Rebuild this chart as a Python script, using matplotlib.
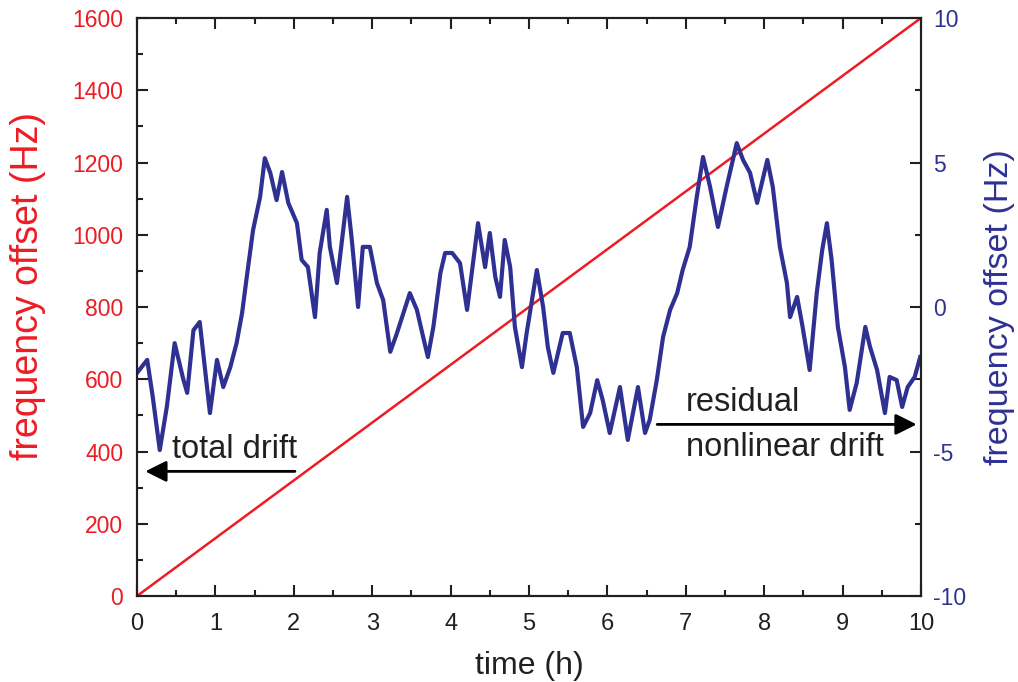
import matplotlib
matplotlib.use('Agg')
import matplotlib.pyplot as plt
import numpy as np
from matplotlib.ticker import MultipleLocator

plt.rcParams['font.family'] = ['Liberation Sans', 'DejaVu Sans']
plt.rcParams['axes.unicode_minus'] = False

red = '#ed1c24'
blue = '#2e3192'
dark = '#231f20'

# total drift (left axis), straight line from 0 to 1600 Hz
drift_t = [0, 10]
drift_f = [0, 1600]

# residual nonlinear drift (right axis)
res_t = [0.0, 0.13, 0.2, 0.29, 0.38, 0.48, 0.59, 0.64, 0.72, 0.80, 0.85, 0.93,
         1.02, 1.10, 1.19, 1.27, 1.34, 1.40, 1.48, 1.57, 1.63, 1.70, 1.78, 1.85,
         1.93, 2.04, 2.10, 2.18, 2.27, 2.33, 2.42, 2.46, 2.55, 2.68, 2.74, 2.82,
         2.88, 2.97, 3.06, 3.14, 3.23, 3.31, 3.48, 3.57, 3.65, 3.71, 3.78, 3.87,
         3.93, 4.02, 4.12, 4.21, 4.27, 4.35, 4.44, 4.50, 4.57, 4.63, 4.69, 4.76,
         4.82, 4.91, 4.97, 5.10, 5.18, 5.24, 5.31, 5.43, 5.52, 5.61, 5.69, 5.78,
         5.87, 5.94, 6.03, 6.16, 6.26, 6.39, 6.48, 6.54, 6.63, 6.71, 6.80, 6.89,
         6.96, 7.05, 7.14, 7.22, 7.31, 7.41, 7.52, 7.65, 7.73, 7.82, 7.91, 8.04,
         8.11, 8.20, 8.29, 8.33, 8.42, 8.49, 8.58, 8.67, 8.74, 8.80, 8.86, 8.94,
         9.03, 9.09, 9.18, 9.29, 9.35, 9.44, 9.54, 9.60, 9.69, 9.76, 9.83, 9.92,
         9.99]
res_f = [-2.28, -1.83, -3.1, -4.95, -3.46, -1.25, -2.5, -2.97, -0.8, -0.52, -1.73, -3.67,
         -1.83, -2.77, -2.08, -1.25, -0.21, 1.04, 2.66, 3.81, 5.15, 4.64, 3.7, 4.67,
         3.6, 2.9, 1.63, 1.38, -0.35, 1.87, 3.36, 2.08, 0.83, 3.81, 2.32, 0.0,
         2.08, 2.08, 0.83, 0.24, -1.55, -0.95, 0.48, -0.1, -1.04, -1.73, -0.69, 1.18,
         1.87, 1.87, 1.52, -0.1, 1.18, 2.9, 1.38, 2.56, 1.04, 0.35, 2.32, 1.38,
         -0.69, -2.08, -0.9, 1.28, 0.0, -1.38, -2.28, -0.9, -0.9, -2.08, -4.15, -3.67,
         -2.53, -3.22, -4.36, -2.77, -4.6, -2.77, -4.36, -3.9, -2.53, -1.04, -0.1, 0.48,
         1.28, 2.08, 3.81, 5.19, 4.15, 2.77, 4.15, 5.67, 5.09, 4.64, 3.6, 5.09,
         4.15, 2.08, 0.83, -0.35, 0.35, -0.69, -2.18, 0.48, 1.97, 2.9, 1.63, -0.69,
         -2.08, -3.56, -2.63, -0.69, -1.38, -2.18, -3.67, -2.42, -2.53, -3.46, -2.77, -2.42,
         -1.73]

fig = plt.figure(figsize=(10.18, 6.82), dpi=100)
ax = fig.add_axes([0.1346, 0.1261, 0.7701, 0.8475])
ax2 = ax.twinx()

ax.plot(drift_t, drift_f, color=red, lw=1.8, zorder=3)
ax2.plot(res_t, res_f, color=blue, lw=3.0)

ax.set_xlim(0, 10)
ax.set_ylim(0, 1600)
ax2.set_ylim(-10, 10)

ax.xaxis.set_major_locator(MultipleLocator(1))
ax.xaxis.set_minor_locator(MultipleLocator(0.5))
ax.yaxis.set_major_locator(MultipleLocator(200))
ax.yaxis.set_minor_locator(MultipleLocator(100))
ax2.yaxis.set_major_locator(MultipleLocator(5))
ax2.yaxis.set_minor_locator(MultipleLocator(2.5))

ax.tick_params(axis='x', which='both', direction='in', top=True, color=dark, width=1.5,
               labelsize=17, labelcolor=dark, pad=12)
ax.tick_params(axis='y', which='both', direction='in', color=dark, width=1.5,
               labelsize=16.5, labelcolor=red, pad=10)
ax2.tick_params(axis='y', which='both', direction='in', color=dark, width=1.5,
                labelsize=16.5, labelcolor=blue, pad=9)
for a in (ax, ax2):
    a.tick_params(which='major', length=8)
    a.tick_params(which='minor', length=4)
    for s in a.spines.values():
        s.set_color(dark)
        s.set_linewidth(1.5)

ax.set_xlabel('time (h)', fontsize=23, color=dark, labelpad=12)
ax.set_ylabel('frequency offset (Hz)', fontsize=27, color=red)
ax.yaxis.set_label_coords(-0.116, 0.536)
ax2.set_ylabel('frequency offset (Hz)', fontsize=24.5, color=blue)
ax2.yaxis.set_label_coords(1.081, 0.5)

# arrows with labels
ax.annotate('', xy=(0.07, 345), xytext=(2.05, 345),
            arrowprops=dict(arrowstyle='-|>', color='black', lw=2, mutation_scale=32))
ax.text(0.45, 364, 'total drift', fontsize=23.5, color=dark, ha='left', va='bottom')
ax.annotate('', xy=(9.98, 475), xytext=(6.6, 475),
            arrowprops=dict(arrowstyle='-|>', color='black', lw=2, mutation_scale=32))
ax.text(7.0, 492, 'residual', fontsize=23.5, color=dark, ha='left', va='bottom')
ax.text(7.0, 454, 'nonlinear drift', fontsize=23.5, color=dark, ha='left', va='top')

fig.savefig('out.png', dpi=100)
